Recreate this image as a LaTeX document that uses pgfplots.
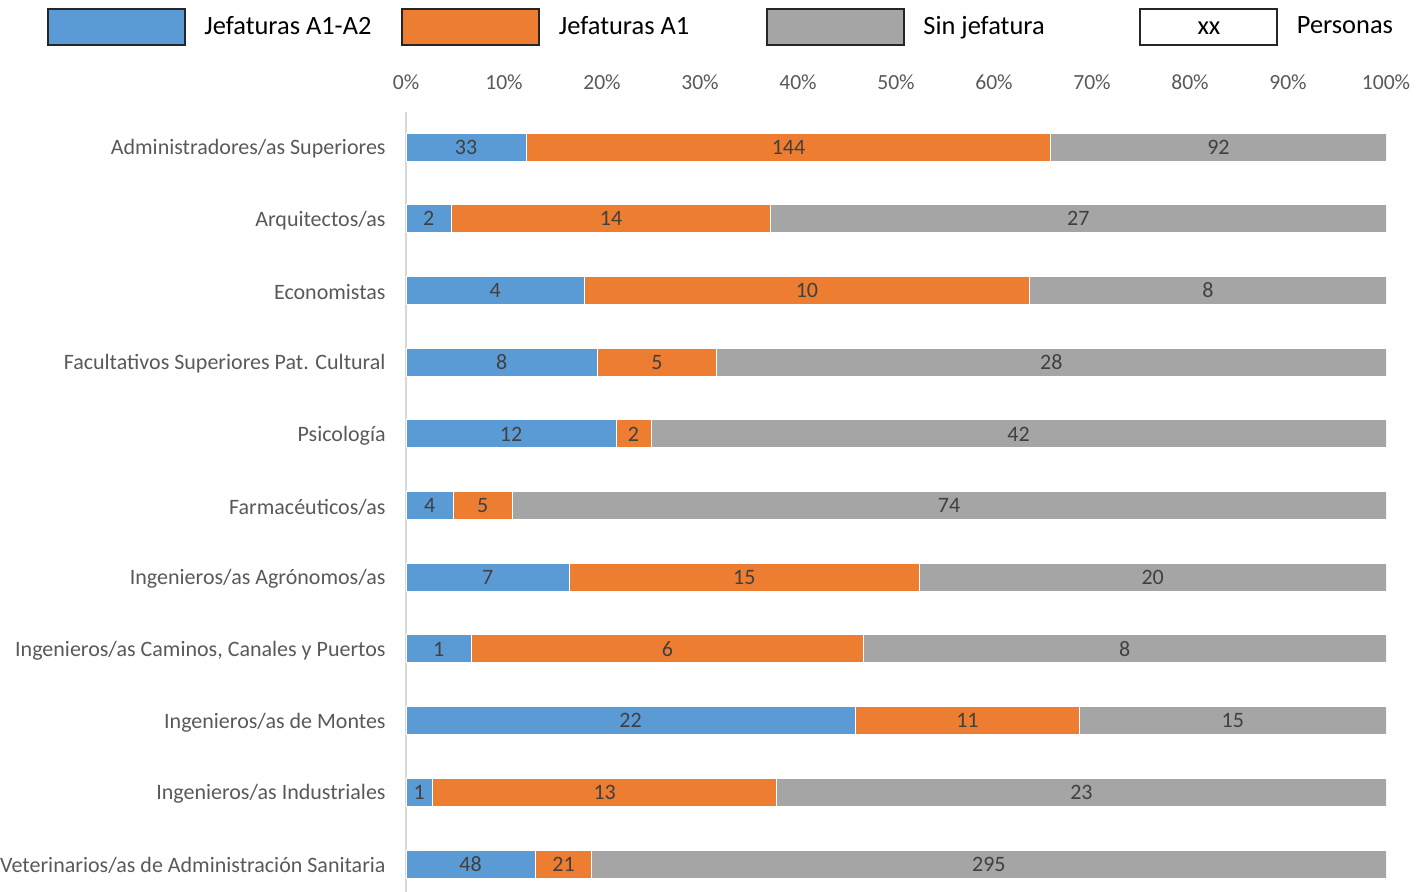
\documentclass[border=0pt]{standalone}
\usepackage{pgfplots}
\pgfplotsset{compat=1.18}
\usepackage{pgfplotstable}
\usepackage{fontspec}
\setmainfont{Carlito}
\definecolor{cblue}{HTML}{5B9BD5}
\definecolor{corange}{HTML}{ED7D31}
\definecolor{cgrey}{HTML}{A5A5A5}
\definecolor{ctext}{HTML}{595959}
\definecolor{cnum}{HTML}{404040}
\definecolor{cline}{HTML}{D9D9D9}
\definecolor{cbox}{HTML}{262626}

\pgfplotstableread{
y p n
0 12.268 33
1 4.651 2
2 18.182 4
3 19.512 8
4 21.429 12
5 4.819 4
6 16.667 7
7 6.667 1
8 45.833 22
9 2.703 1
10 13.187 48
}\tA
\pgfplotstableread{
y p n
0 53.532 144
1 32.558 14
2 45.455 10
3 12.195 5
4 3.571 2
5 6.024 5
6 35.714 15
7 40.000 6
8 22.917 11
9 35.135 13
10 5.769 21
}\tB
\pgfplotstableread{
y p n
0 34.200 92
1 62.791 27
2 36.363 8
3 68.293 28
4 75.000 42
5 89.157 74
6 47.619 20
7 53.333 8
8 31.250 15
9 62.162 23
10 81.044 295
}\tC

\begin{document}
\begin{tikzpicture}
\useasboundingbox (0,0) rectangle (714pt,446pt);
\begin{axis}[
  at={(448pt,195pt)}, anchor=center,
  scale only axis, width=490pt, height=390pt,
  xbar stacked, bar width=14pt,
  xmin=0, xmax=100,
  ymin=-0.49, ymax=10.39, y dir=reverse,
  axis x line*=top, axis y line*=left,
  x axis line style={draw=none},
  y axis line style={-, draw=cline, line width=0.9pt},
  major tick length=0pt,
  xtick={0,10,...,100},
  xticklabel={\pgfmathprintnumber{\tick}\%},
  /pgf/number format/assume math mode=true,
  xticklabel style={font=\fontsize{10.8}{12}\selectfont, text=ctext, inner sep=0pt, yshift=11pt},
  ytick={0,...,10},
  yticklabels={Administradores/as Superiores, Arquitectos/as, Economistas,
    Facultativos Superiores Pat. Cultural, Psicología, Farmacéuticos/as,
    Ingenieros/as Agrónomos/as, {Ingenieros/as Caminos, Canales y Puertos},
    Ingenieros/as de Montes, Ingenieros/as Industriales,
    Veterinarios/as de Administración Sanitaria},
  yticklabel style={font=\fontsize{11}{13}\selectfont, text=ctext, inner sep=0pt, xshift=-10pt, yshift=-0.8pt},
  point meta=explicit symbolic,
  nodes near coords,
  every node near coord/.append style={anchor=center,
     font=\fontsize{11}{13}\selectfont, text=cnum, inner sep=0pt},
  legend columns=4,
  legend style={at={(-0.36633,1.10897)}, anchor=west, draw=none, fill=none,
     inner sep=0pt, outer sep=0pt, column sep=0pt,
     nodes={inner sep=0pt, font=\fontsize{13.2}{15}\selectfont, text=black}},
]
\addplot[fill=cblue, draw=white, line width=0.5pt,
  legend image code/.code={\draw[line width=1pt, draw=cbox, fill=cblue] (0pt,-9pt) rectangle (68.5pt,9pt); \path (78pt,0pt);}]
  table[x=p, y=y, meta=n] {\tA};
\addlegendentry{\makebox[98.5pt][l]{Jefaturas A1-A2}}
\addplot[fill=corange, draw=white, line width=0.5pt,
  legend image code/.code={\draw[line width=1pt, draw=cbox, fill=corange] (0pt,-9pt) rectangle (68.5pt,9pt); \path (78pt,0pt);}]
  table[x=p, y=y, meta=n] {\tB};
\addlegendentry{\makebox[103.5pt][l]{Jefaturas A1}}
\addplot[fill=cgrey, draw=white, line width=0.5pt,
  legend image code/.code={\draw[line width=1pt, draw=cbox, fill=cgrey] (0pt,-9pt) rectangle (68.5pt,9pt); \path (78pt,0pt);}]
  table[x=p, y=y, meta=n] {\tC};
\addlegendentry{\makebox[108pt][l]{Sin jefatura}}
\addlegendimage{legend image code/.code={\draw[line width=1pt, draw=cbox, fill=white] (0pt,-9pt) rectangle (68.5pt,9pt); \node[font=\fontsize{13.2}{15}\selectfont, text=black, inner sep=0pt, anchor=center] at (34.25pt,-1.2pt) {xx}; \path (78pt,0pt);}}
\addlegendentry{Personas}
\end{axis}
\end{tikzpicture}
\end{document}
